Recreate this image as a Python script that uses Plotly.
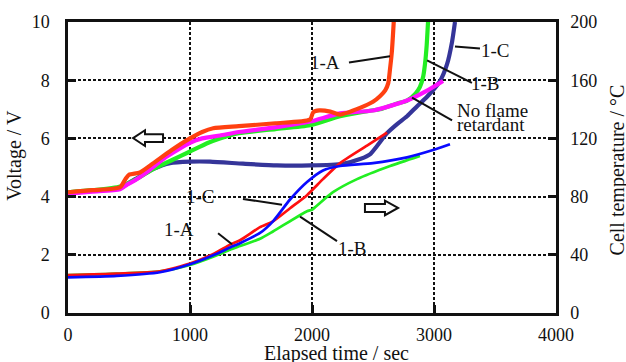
import plotly.graph_objects as go

# ---- Voltage curves (left axis, V) ----
t_v_1a = [0, 200, 426, 470, 500, 590, 700, 850, 1000, 1100, 1190, 1400, 1700, 1984, 2010, 2060, 2150, 2230, 2393, 2500, 2557, 2600, 2625, 2640, 2655, 2670]
v_1a = [4.15, 4.22, 4.32, 4.6, 4.75, 4.83, 5.15, 5.6, 6.0, 6.22, 6.35, 6.42, 6.52, 6.65, 6.9, 6.96, 6.92, 6.82, 7.05, 7.26, 7.45, 7.65, 7.9, 8.4, 9.0, 10.0]

t_v_1b = [0, 200, 430, 560, 700, 850, 1000, 1150, 1245, 1400, 1700, 1984, 2230, 2475, 2557, 2700, 2779, 2850, 2885, 2910, 2926, 2940, 2951]
v_1b = [4.15, 4.22, 4.35, 4.6, 4.95, 5.25, 5.55, 5.85, 6.0, 6.18, 6.32, 6.45, 6.76, 6.95, 7.0, 7.2, 7.3, 7.55, 7.77, 8.1, 8.55, 9.2, 10.0]

t_v_1c = [0, 200, 426, 550, 700, 836, 1000, 1164, 1434, 1713, 1984, 2254, 2400, 2475, 2533, 2615, 2700, 2779, 2860, 2943, 3049, 3107, 3148, 3172]
v_1c = [4.12, 4.2, 4.3, 4.6, 4.95, 5.15, 5.2, 5.2, 5.13, 5.07, 5.07, 5.13, 5.3, 5.45, 5.74, 6.18, 6.5, 6.76, 7.1, 7.43, 7.97, 8.55, 9.32, 10.0]

t_v_nfr = [0, 200, 426, 480, 550, 650, 800, 1000, 1100, 1246, 1400, 1700, 1984, 2230, 2500, 2779, 2943, 3074]
v_nfr = [4.1, 4.17, 4.25, 4.4, 4.56, 4.85, 5.35, 5.85, 6.0, 6.1, 6.22, 6.38, 6.58, 6.86, 6.96, 7.3, 7.64, 7.97]

# ---- Cell temperature curves (right axis, deg C) ----
t_T_1a = [0, 400, 754, 1000, 1200, 1328, 1410, 1574, 1680, 1820, 1959, 2090, 2230, 2451, 2615]
T_1a = [26, 27, 28.6, 34, 41, 47, 50, 59, 63, 72, 81, 92, 103, 115, 124]

t_T_1b = [0, 400, 754, 1000, 1200, 1328, 1410, 1574, 1680, 1959, 2000, 2030, 2172, 2369, 2640, 2885]
T_1b = [26, 27, 28.6, 33, 39, 43.5, 46, 51, 56, 70, 71, 73, 83, 92, 101, 108]

t_T_1c = [0, 400, 754, 1000, 1200, 1328, 1410, 1574, 1680, 1820, 1959, 2090, 2230, 2500, 2779, 2992, 3131]
T_1c = [24.5, 25.5, 28, 33.5, 40, 45, 48, 55, 63, 78, 90, 98, 101, 103, 107, 112, 116]

x_ticks = [0, 1000, 2000, 3000, 4000]
v_ticks = [0, 2, 4, 6, 8, 10]
T_ticks = [0, 40, 80, 120, 160, 200]

SERIF = "'Liberation Serif', 'Times New Roman', Times, serif"
INK = "#111111"

fig = go.Figure()

# temperature traces (thin)
for t, T, c in [(t_T_1b, T_1b, "#22EE22"), (t_T_1a, T_1a, "#FF1010"), (t_T_1c, T_1c, "#0A0AFF")]:
    fig.add_trace(go.Scatter(x=t, y=T, yaxis="y2", mode="lines",
                             line=dict(color=c, width=2.7, shape="spline", smoothing=0.6),
                             showlegend=False, hoverinfo="skip"))

# voltage traces (thick)
for t, v, c in [(t_v_1c, v_1c, "#353599"), (t_v_1b, v_1b, "#22EE22"),
                (t_v_nfr, v_nfr, "#FF10FF"), (t_v_1a, v_1a, "#FF4010")]:
    fig.add_trace(go.Scatter(x=t, y=v, yaxis="y", mode="lines",
                             line=dict(color=c, width=4.2, shape="spline", smoothing=0.6),
                             showlegend=False, hoverinfo="skip"))

# leader lines from labels to curves (time, voltage-axis units)
leaders = [
    (2303, 8.61, 2639, 8.82),   # 1-A upper
    (3172, 9.16, 3377, 9.09),   # 1-C upper
    (2943, 8.68, 3311, 7.91),   # 1-B upper
    (2820, 7.40, 3148, 6.62),   # No flame retardant
    (1434, 3.92, 1754, 3.72),   # 1-C lower
    (1230, 2.74, 1344, 2.36),   # 1-A lower
    (1902, 3.31, 2205, 2.47),   # 1-B lower
]
shapes = []
for x0, y0, x1, y1 in leaders:
    shapes.append(dict(type="line", xref="x", yref="y", x0=x0, y0=y0, x1=x1, y1=y1,
                       line=dict(color=INK, width=2)))


def block_arrow(tip, base, tail, yc, shaft, head):
    pts = [(tip, yc), (base, yc + head), (base, yc + shaft), (tail, yc + shaft),
           (tail, yc - shaft), (base, yc - shaft), (base, yc - head)]
    return "M " + " L ".join(f"{x},{y}" for x, y in pts) + " Z"


# hollow arrows pointing to the axis each curve family belongs to
shapes.append(dict(type="path", xref="x", yref="y",
                   path=block_arrow(533, 631, 779, 6.01, 0.135, 0.27),
                   line=dict(color=INK, width=2), fillcolor="white"))
shapes.append(dict(type="path", xref="x", yref="y",
                   path=block_arrow(2705, 2598, 2434, 3.61, 0.135, 0.25),
                   line=dict(color=INK, width=2), fillcolor="white"))

lab_font = dict(family=SERIF, size=19, color=INK)
annotations = [
    dict(x=2107, y=8.61, text="1-A"),
    dict(x=3508, y=9.02, text="1-C"),
    dict(x=3426, y=7.87, text="1-B"),
    dict(x=3172, y=6.95, text="No flame", xanchor="left", height=15),
    dict(x=3172, y=6.47, text="retardant", xanchor="left", height=15),
    dict(x=1082, y=3.99, text="1-C"),
    dict(x=910, y=2.87, text="1-A"),
    dict(x=2328, y=2.23, text="1-B"),
]
for a in annotations:
    a.update(xref="x", yref="y", showarrow=False, font=lab_font)
    a.setdefault("xanchor", "center")

title_font = dict(family=SERIF, size=20, color=INK)
annotations += [
    dict(xref="paper", yref="paper", x=-0.1086, y=0.54, text="Voltage / V",
         textangle=-90, showarrow=False, font=title_font, xanchor="center", yanchor="middle"),
    dict(xref="paper", yref="paper", x=1.125, y=0.49, text="Cell temperature / °C",
         textangle=-90, showarrow=False, font=title_font, xanchor="center", yanchor="middle"),
    dict(xref="paper", yref="paper", x=0.551, y=-0.138, text="Elapsed time / sec",
         showarrow=False, font=title_font, xanchor="center", yanchor="middle"),
]

tick_font = dict(family=SERIF, size=18, color=INK)
grid = dict(showgrid=True, gridcolor=INK, gridwidth=2, griddash="3px,2px")

fig.update_layout(
    width=626, height=362,
    margin=dict(l=68, r=70, t=17, b=49),
    paper_bgcolor="white", plot_bgcolor="white",
    font=dict(family=SERIF, color=INK),
    xaxis=dict(range=[0, 4000], tickvals=x_ticks, ticktext=[str(v) for v in x_ticks],
               showline=True, linecolor=INK, linewidth=2.5, mirror=True,
               ticks="inside", ticklen=8, tickwidth=2.5, tickcolor=INK,
               tickfont=tick_font, ticklabelstandoff=4, zeroline=False, **grid),
    yaxis=dict(range=[0, 10], tickvals=v_ticks, showline=True, linecolor=INK, linewidth=2.5,
               ticks="inside", ticklen=8, tickwidth=2.5, tickcolor=INK,
               tickfont=tick_font, ticklabelstandoff=12, zeroline=False, **grid),
    yaxis2=dict(range=[0, 200], tickvals=T_ticks, overlaying="y", side="right",
                showline=True, linecolor=INK, linewidth=2.5,
                ticks="inside", ticklen=8, tickwidth=2.5, tickcolor=INK,
                tickfont=tick_font, ticklabelstandoff=8, showgrid=False, zeroline=False),
    shapes=shapes, annotations=annotations,
    showlegend=False,
)

fig.write_html("out.html")
